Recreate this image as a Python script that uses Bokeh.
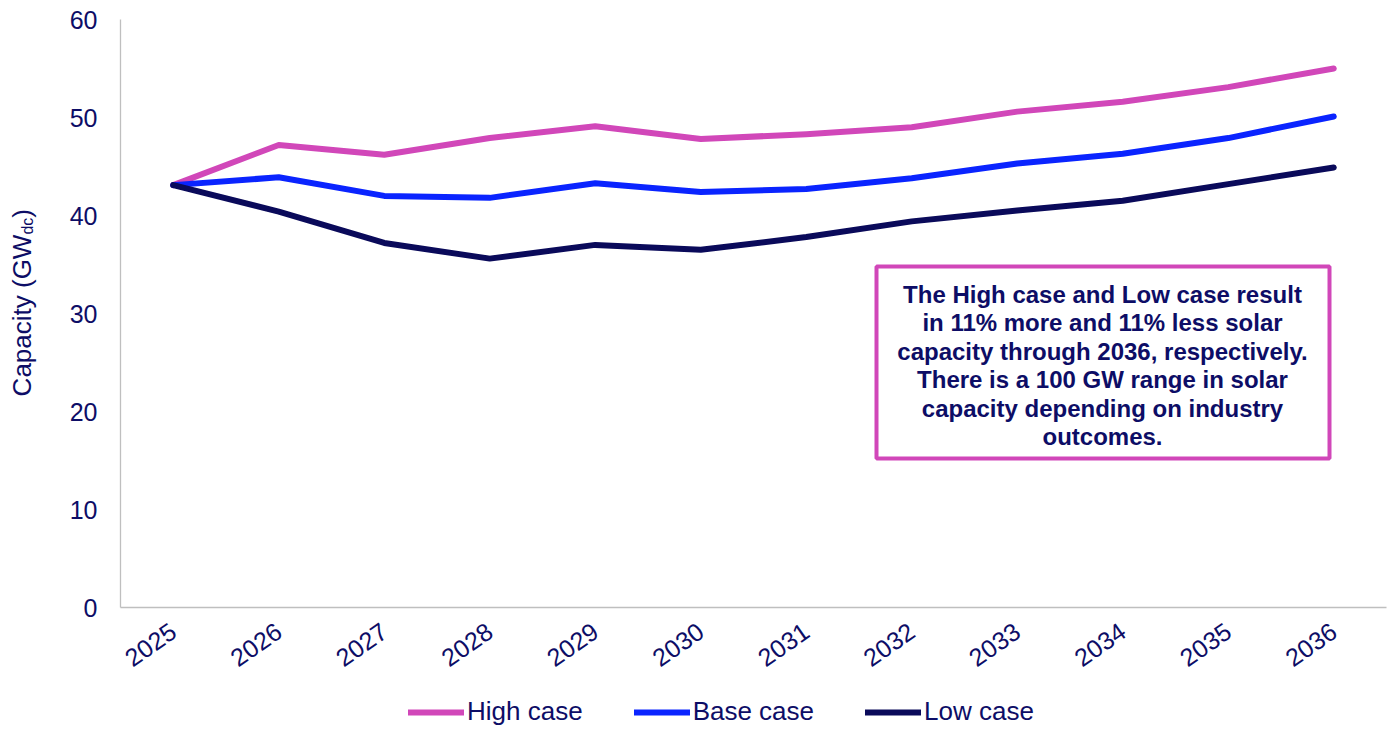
import math

from bokeh.embed import file_html
from bokeh.layouts import column, row
from bokeh.models import BoxAnnotation, ColumnDataSource, Div, FactorRange, Label, Legend, LegendItem, Range1d
from bokeh.plotting import figure
from bokeh.resources import INLINE

# Solar capacity outlook (GWdc) under three scenarios
years = ["2025", "2026", "2027", "2028", "2029", "2030",
         "2031", "2032", "2033", "2034", "2035", "2036"]
high_case = [43.1, 47.2, 46.2, 47.9, 49.1, 47.8, 48.3, 49.0, 50.6, 51.6, 53.1, 55.0]
base_case = [43.1, 43.9, 42.0, 41.8, 43.3, 42.4, 42.7, 43.8, 45.3, 46.3, 47.9, 50.1]
low_case = [43.1, 40.4, 37.2, 35.6, 37.0, 36.5, 37.8, 39.4, 40.5, 41.5, 43.2, 44.9]

series_keys = ["high", "base", "low"]
series_names = ["High case", "Base case", "Low case"]
series_colors = ["#D147B9", "#0A24FF", "#0A0A5A"]
y_ticks = [0, 10, 20, 30, 40, 50, 60]

TEXT = "#0D0D66"
FONT = "Liberation Sans"
LINE_STYLE = dict(line_width=6, line_cap="round", line_join="round")

note_lines = [
    "The High case and Low case result",
    "in 11% more and 11% less solar",
    "capacity through 2036, respectively.",
    "There is a 100 GW range in solar",
    "capacity depending on industry",
    "outcomes.",
]

src = ColumnDataSource(dict(year=years, high=high_case, base=base_case, low=low_case))

# ---- main chart -------------------------------------------------------------
p = figure(
    width=1352, height=685,
    x_range=FactorRange(*years, range_padding=0),
    y_range=Range1d(0, 60),
    output_backend="svg", toolbar_location=None,
    min_border_left=80, min_border_right=6,
    min_border_top=19, min_border_bottom=78,
)
p.outline_line_color = None
p.background_fill_color = "white"
p.border_fill_color = "white"
p.xgrid.grid_line_color = None
p.ygrid.grid_line_color = None

for ax in (p.xaxis[0], p.yaxis[0]):
    ax.axis_line_color = "#BFBFBF"
    ax.axis_line_width = 1.3
    ax.major_tick_line_color = None
    ax.minor_tick_line_color = None
    ax.major_label_text_color = TEXT
    ax.major_label_text_font = FONT
    ax.major_label_text_font_size = "25px"

p.yaxis.ticker = y_ticks
p.yaxis.major_label_standoff = 17
p.xaxis.major_label_orientation = math.radians(35)
p.xaxis.major_label_standoff = 15

for key, color in zip(series_keys, series_colors):
    p.line("year", key, source=src, line_color=color, **LINE_STYLE)

# note box
p.add_layout(BoxAnnotation(
    left=756, right=1209, bottom=149, top=341,
    left_units="screen", right_units="screen", bottom_units="screen", top_units="screen",
    fill_color="white", fill_alpha=1, line_color="#D147B9", line_alpha=1, line_width=4,
))
p.add_layout(Label(
    x=982, y=242, x_units="screen", y_units="screen",
    text="\n".join(note_lines), text_align="center", text_baseline="middle",
    text_font=FONT, text_font_style="bold", text_font_size="24px",
    text_color=TEXT, text_line_height=1.05,
))

# vertical axis title with subscript
y_title = Div(
    width=40, height=685, margin=0,
    text=(
        '<div style="position:relative;width:40px;height:685px;">'
        '<div style="position:absolute;left:9px;top:209px;writing-mode:vertical-rl;'
        'transform:rotate(180deg);white-space:nowrap;line-height:1;'
        f"font-family:'{FONT}';font-size:26px;color:{TEXT};\">"
        'Capacity (GW<sub style="font-size:16px;">dc</sub>)</div></div>'
    ),
)

# ---- legend strip -----------------------------------------------------------
leg_fig = figure(
    width=1392, height=44,
    x_range=Range1d(0, 1), y_range=Range1d(0, 1),
    x_axis_location=None, y_axis_location=None,
    output_backend="svg", toolbar_location=None, min_border=0,
)
leg_fig.outline_line_color = None
leg_fig.xgrid.grid_line_color = None
leg_fig.ygrid.grid_line_color = None

# legend-only line renderers; their points sit outside this strip's ranges
items = []
for name, color in zip(series_names, series_colors):
    r = leg_fig.line(x=[-5, -4], y=[-5, -4], line_color=color, **LINE_STYLE)
    items.append(LegendItem(label=name, renderers=[r]))

leg_fig.add_layout(Legend(
    items=items, orientation="horizontal", location=(408, 2),
    padding=0, margin=0, spacing=51,
    glyph_width=56, glyph_height=30, label_height=30, label_standoff=3,
    label_text_font=FONT, label_text_font_size="26px", label_text_color=TEXT,
    border_line_color=None, background_fill_alpha=0,
))

layout = column(row(y_title, p, spacing=0), leg_fig, spacing=0)
open("out.html", "w").write(file_html(layout, INLINE))
